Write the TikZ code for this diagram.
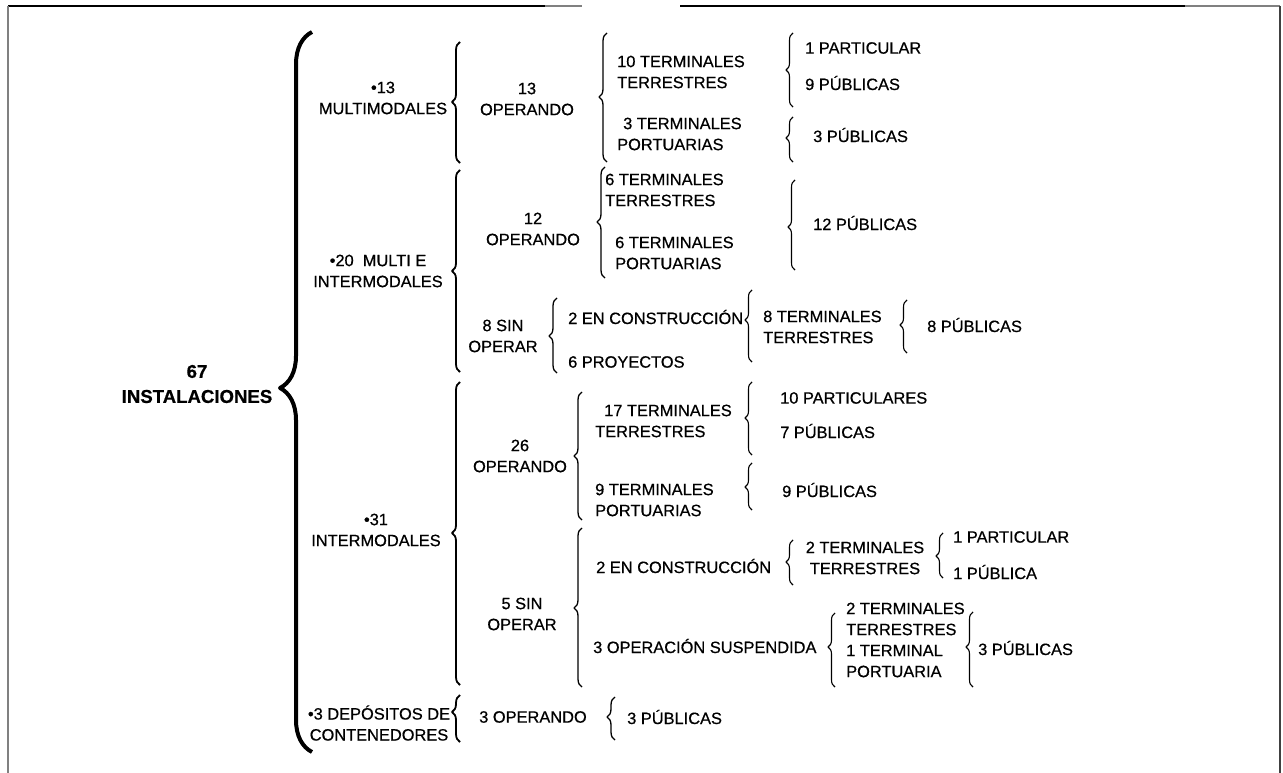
\documentclass[tikz,border=0pt]{standalone}
\usepackage{fontspec}
\setmainfont{Liberation Sans}[FakeBold=0.6]
\usetikzlibrary{decorations.pathreplacing}

\tikzset{
  lbl/.style={inner sep=0pt, font=\fontsize{16.4}{21}\selectfont, align=center},
  lbll/.style={lbl, anchor=west, align=left},
  rootlbl/.style={inner sep=0pt, font=\fontsize{18.6}{25}\selectfont\bfseries, align=center},
}

\begin{document}
\begin{tikzpicture}[x=1pt,y=-1pt]
  \useasboundingbox (0,0) rectangle (1283,773);
  % frame
  \draw[line width=1.6pt] (8,6) -- (545,6) (680,6) -- (1185,6);
  \draw[gray, line width=1.2pt] (545,6) -- (582,6) (1185,6) -- (1280,6);
  \draw[gray, line width=1.2pt] (8,6) -- (8,773);
  \draw[darkgray, line width=1.2pt] (1280,6) -- (1280,773);
  % braces: name/x/top/tip/bottom/amplitude/width
  \foreach \n/\x/\t/\m/\b/\a/\w in
    {R/312/32/388/752/32/4pt,
     A/460/42/102/163/8/1.8pt, B/460/170/271/372/8/1.8pt,
     C/460/382/533/685/8/1.8pt, D/460/695/712/742/8/1.8pt,
     E/607/33/97/162/8/1.3pt, F/605/167/222/278/8/1.3pt,
     G/557/298/336/373/8/1.3pt, H/582/392/456/520/8/1.3pt,
     I/582/528/608/687/8/1.3pt, J/615/697/717/740/8/1.3pt,
     K/793/33/70/107/7/1.1pt, L/793/117/138/162/7/1.1pt,
     M/795/180/227/270/7/1.1pt, N/752/290/320/362/7/1.1pt,
     O/907/300/325/353/7/1.1pt, P/752/382/418/455/7/1.1pt,
     Q/752/463/487/510/7/1.1pt, S/793/540/562/585/7/1.1pt,
     T/835/613/647/687/7/1.1pt, U/943/533/556/578/7/1.1pt,
     V/973/612/647/687/7/1.1pt}{
    \pgfmathsetmacro\asp{(\b-\m)/(\b-\t)}
    \coordinate (\n-bot) at (\x,\b);
    \coordinate (\n-top) at (\x,\t);
    \draw[line width=\w, line join=round,
      decorate, decoration={brace, amplitude=\a, aspect=\asp}] (\n-bot) -- (\n-top);
  }
  % root
  \node[rootlbl] (root) at (197,384) {67\\INSTALACIONES};
  % first level
  \node[lbl] (multi) at (383,98) {•13\\MULTIMODALES};
  \node[lbl] (mint) at (378,271) {•20~ MULTI E\\INTERMODALES};
  \node[lbl] (inter) at (376,530) {•31\\INTERMODALES};
  \node[lbl] (depo) at (379,723) {•3 DEPÓSITOS DE\\CONTENEDORES};
  % second level
  \node[lbl] (op13) at (527,99) {13\\OPERANDO};
  \node[lbl] (op12) at (533,229) {12\\OPERANDO};
  \node[lbl] (sin8) at (503,336) {8 SIN\\OPERAR};
  \node[lbl] (op26) at (520,456) {26\\OPERANDO};
  \node[lbl] (sin5) at (522,614) {5 SIN\\OPERAR};
  \node[lbl] (op3) at (533,717) {3 OPERANDO};
  % third level
  \node[lbll] (tt10) at (617,72) {10 TERMINALES\\TERRESTRES};
  \node[lbll] (tp3) at (617,134) {\hspace{6pt}3 TERMINALES\\PORTUARIAS};
  \node[lbll] (tt6) at (605,190) {6 TERMINALES\\TERRESTRES};
  \node[lbll] (tp6) at (615,253) {6 TERMINALES\\PORTUARIAS};
  \node[lbll] (cons8) at (568,317) {2 EN CONSTRUCCIÓN};
  \node[lbll] (proy6) at (568,362) {6 PROYECTOS};
  \node[lbll] (tt17) at (595,421) {\hspace{9pt}17 TERMINALES\\TERRESTRES};
  \node[lbll] (tp9) at (595,500) {9 TERMINALES\\PORTUARIAS};
  \node[lbll] (cons2) at (596,566) {2 EN CONSTRUCCIÓN};
  \node[lbll] (susp3) at (593,646) {3 OPERACIÓN SUSPENDIDA};
  \node[lbll] (pub3c) at (627,717) {3 PÚBLICAS};
  % fourth level
  \node[lbll] (part1) at (805,48) {1 PARTICULAR};
  \node[lbll] (pub9) at (805,83) {9 PÚBLICAS};
  \node[lbll] (pub3a) at (813,135) {3 PÚBLICAS};
  \node[lbll] (pub12) at (813,223) {12 PÚBLICAS};
  \node[lbll] (tt8) at (763,327) {8 TERMINALES\\TERRESTRES};
  \node[lbll] (part10) at (780,398) {10 PARTICULARES};
  \node[lbll] (pub7) at (780,431) {7 PÚBLICAS};
  \node[lbll] (pub9b) at (782,490) {9 PÚBLICAS};
  \node[lbl] (tt2) at (865,558) {2 TERMINALES\\TERRESTRES};
  \node[lbll] (mix) at (846,640) {2 TERMINALES\\TERRESTRES\\1 TERMINAL\\PORTUARIA};
  % fifth level
  \node[lbll] (pub8) at (927,325) {8 PÚBLICAS};
  \node[lbll] (part1b) at (953,537) {1 PARTICULAR};
  \node[lbll] (pub1) at (953,572) {1 PÚBLICA};
  \node[lbll] (pub3d) at (978,648) {3 PÚBLICAS};
\end{tikzpicture}
\end{document}
